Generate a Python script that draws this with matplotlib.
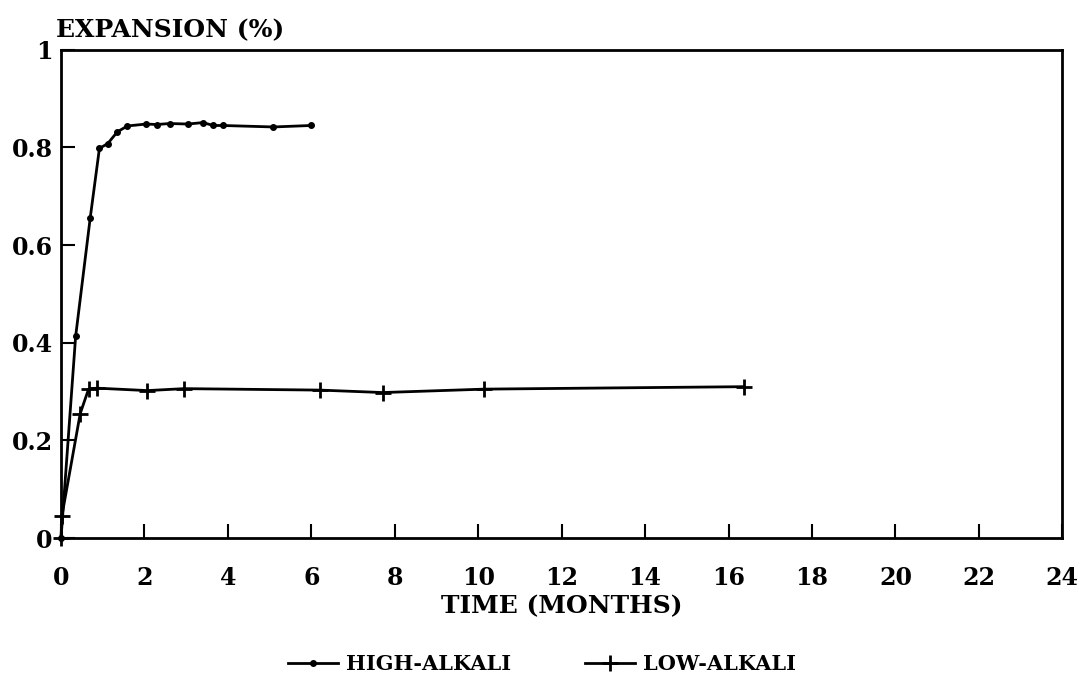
import numpy as np
import matplotlib
matplotlib.use('Agg')
import matplotlib.pyplot as plt

# values (time in months, expansion in %)
high_t = [0, 0.35, 0.70, 0.92, 1.12, 1.35, 1.59, 2.04, 2.29, 2.60, 3.05, 3.40, 3.65, 3.88, 5.09, 5.99]
high_e = [0, 0.413, 0.656, 0.798, 0.808, 0.832, 0.844, 0.848, 0.847, 0.849, 0.848, 0.851, 0.845, 0.845, 0.842, 0.845]

low_t = [0, 0.02, 0.46, 0.66, 0.86, 2.07, 2.95, 6.21, 7.71, 10.15, 16.36]
low_e = [0, 0.045, 0.255, 0.305, 0.307, 0.302, 0.306, 0.303, 0.298, 0.305, 0.31]

x_ticks = list(range(0, 25, 2))
y_ticks = [0, 0.2, 0.4, 0.6, 0.8, 1]
y_labels = ['0', '0.2', '0.4', '0.6', '0.8', '1']

plt.rcParams['font.family'] = 'DejaVu Serif'
plt.rcParams['font.weight'] = 'bold'

fig = plt.figure(figsize=(10.84, 6.92), dpi=100)
ax = fig.add_axes([0.0563, 0.2225, 0.9237, 0.7055])

ax.plot(high_t, high_e, color='black', lw=2, marker='o', ms=4, label='HIGH-ALKALI', clip_on=False)
ax.plot(low_t, low_e, color='black', lw=2, marker='+', ms=12, mew=2, label='LOW-ALKALI', clip_on=False)

ax.set_xlim(0, 24)
ax.set_ylim(0, 1)
ax.set_xticks(x_ticks)
ax.set_yticks(y_ticks)
ax.set_yticklabels(y_labels)
ax.tick_params(direction='in', length=10, width=1.5, labelsize=17, pad=6)
ax.tick_params(axis='x', pad=20)
for s in ax.spines.values():
    s.set_linewidth(2)

ax.set_xlabel('TIME (MONTHS)', fontsize=18, fontweight='bold', labelpad=3)
fig.text(0.052, 0.957, 'EXPANSION (%)', fontsize=18, fontweight='bold', ha='left', va='center')

fig.legend(loc='center', bbox_to_anchor=(0.5, 0.04), ncol=2, frameon=False,
           handlelength=2.4, handletextpad=0.4, columnspacing=3.5,
           prop={'weight': 'bold', 'size': 15})

fig.savefig('out.png', dpi=100)
